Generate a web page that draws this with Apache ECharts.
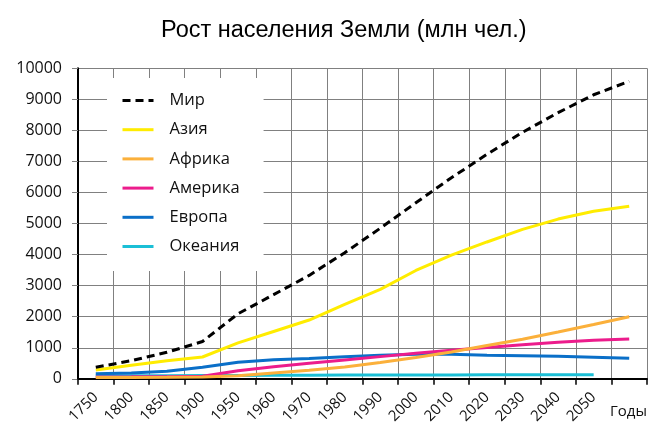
<!DOCTYPE html>
<html>
<head>
<meta charset="utf-8">
<script src="https://cdn.jsdelivr.net/npm/echarts@6/dist/echarts.min.js"></script>
<style>
  html, body { margin: 0; padding: 0; background: #fff; }
  #chart { width: 658px; height: 439px; }
</style>
</head>
<body>
<div id="chart"></div>
<script>
const titleText = 'Рост населения Земли (млн чел.)';
const axisName = 'Годы';
const categories = ['1750', '1800', '1850', '1900', '1950', '1960', '1970', '1980', '1990', '2000', '2010', '2020', '2030', '2040', '2050', ''];
const yTicks = { min: 0, max: 10000, interval: 1000 };

const seriesNames = ['Мир', 'Азия', 'Африка', 'Америка', 'Европа', 'Океания'];
const world   = [370, 583, 853, 1200, 2094, 2710, 3330, 4061, 4850, 5669, 6475, 7231, 7940, 8570, 9149, 9580];
const asia    = [283, 435, 583, 702, 1157, 1525, 1892, 2394, 2880, 3489, 3983, 4407, 4812, 5144, 5398, 5560];
const africa  = [40, 45, 50, 60, 100, 190, 278, 377, 525, 686, 860, 1070, 1271, 1506, 1750, 2000];
const america = [60, 62, 66, 80, 259, 385, 501, 607, 714, 820, 916, 1008, 1099, 1181, 1245, 1280];
const europe  = [160, 190, 240, 370, 535, 612, 652, 708, 761, 794, 790, 760, 745, 723, 697, 665];
const oceania = [100, 100, 100, 105, 110, 115, 115, 120, 120, 125, 125, 130, 130, 130, 130, null];

const seriesData = [world, asia, africa, america, europe, oceania];
const colors = ['#000000', '#FFEC00', '#FBB03B', '#EC1C8C', '#0A6FC8', '#1BBFD6'];
const lineTypes = [[8, 5], 'solid', 'solid', 'solid', 'solid', 'solid'];

const font = 'Open Sans';
const chart = echarts.init(document.getElementById('chart'), null, { renderer: 'canvas' });

chart.setOption({
  animation: false,
  backgroundColor: '#fff',
  title: {
    text: titleText,
    left: 156,
    top: 14,
    textStyle: { fontFamily: 'Liberation Sans', fontSize: 23.5, fontWeight: 'normal', color: '#000' }
  },
  legend: {
    orient: 'vertical',
    left: 107,
    top: 78,
    padding: [14, 24, 16, 14],
    backgroundColor: '#fff',
    itemWidth: 31,
    itemHeight: 17,
    itemGap: 12.2,
    itemStyle: { opacity: 0 },
    lineStyle: { width: 3 },
    textStyle: { fontFamily: font, fontSize: 16.5, color: '#111', padding: [0, 0, 0, 11] },
    data: seriesNames
  },
  grid: { left: 78, right: 11, top: 68.3, bottom: 60.2, containLabel: false },
  xAxis: {
    type: 'category',
    data: categories,
    boundaryGap: true,
    name: axisName,
    nameLocation: 'end',
    nameGap: -37,
    nameTextStyle: { fontFamily: font, fontSize: 15, color: '#111', verticalAlign: 'top', align: 'left', padding: [25, 0, 0, 0] },
    axisLine: { lineStyle: { color: '#000', width: 2 } },
    axisTick: { show: true, length: 6, inside: false, lineStyle: { color: '#000', width: 1.5 } },
    axisLabel: { rotate: 45, margin: 16, fontFamily: font, fontSize: 15, color: '#111', interval: 0 },
    splitLine: { show: true, lineStyle: { color: '#808080', width: 1 } }
  },
  yAxis: {
    type: 'value',
    min: yTicks.min,
    max: yTicks.max,
    interval: yTicks.interval,
    axisLine: { show: true, lineStyle: { color: '#000', width: 2 } },
    axisTick: { show: true, length: 6, lineStyle: { color: '#808080', width: 1 } },
    axisLabel: { margin: 16, fontFamily: font, fontSize: 16, color: '#111', formatter: (v) => String(v) },
    splitLine: { show: true, lineStyle: { color: '#808080', width: 1 } }
  },
  series: seriesNames.map((name, i) => ({
    name: name,
    type: 'line',
    data: seriesData[i],
    symbol: 'none',
    showSymbol: false,
    connectNulls: false,
    z: 10 - i,
    lineStyle: { color: colors[i], width: 3, type: lineTypes[i] },
    itemStyle: { color: colors[i] }
  }))
});
</script>
</body>
</html>
